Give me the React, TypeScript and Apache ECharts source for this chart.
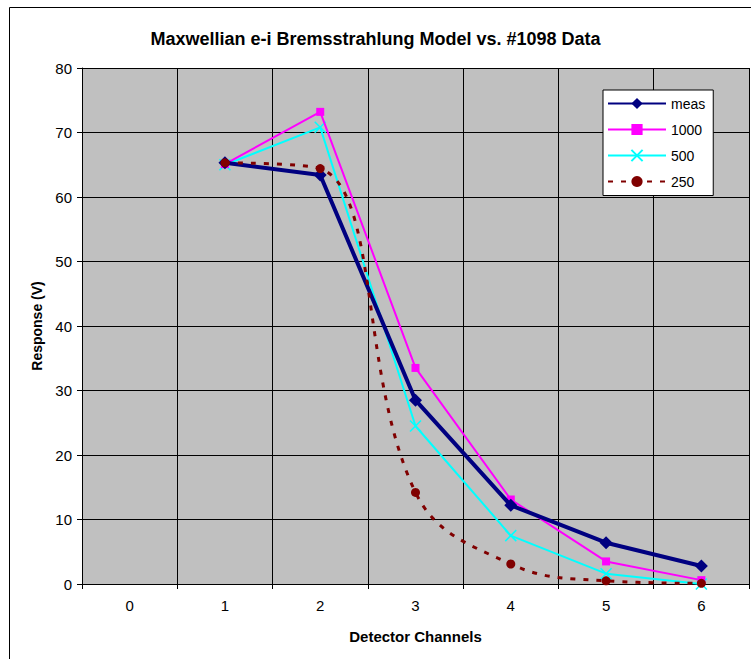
import React, { useEffect, useRef } from "react";
import * as echarts from "echarts";

const categories = ["0", "1", "2", "3", "4", "5", "6"];
const measData = [null, 65.3, 63.4, 28.5, 12.2, 6.4, 2.8];
const data1000 = [null, 65.1, 73.2, 33.5, 13.1, 3.5, 0.6];
const data500 = [null, 65.0, 70.8, 24.5, 7.5, 1.6, 0.0];
const data250 = [null, 65.3, 64.4, 14.2, 3.1, 0.5, 0.1];
const yTicks = { min: 0, max: 80, interval: 10 };

const titleText = "Maxwellian e-i Bremsstrahlung Model vs. #1098 Data";
const xName = "Detector Channels";
const yName = "Response (V)";

const FONT = "Arial, 'Liberation Sans', sans-serif";

export default function App() {
  const ref = useRef<HTMLDivElement>(null);
  useEffect(() => {
    const chart = echarts.init(ref.current!, null, { renderer: "svg" });
    chart.setOption({
      animation: false,
      backgroundColor: "#ffffff",
      title: {
        text: titleText,
        left: "center",
        top: 25,
        textStyle: { fontFamily: FONT, fontSize: 18, fontWeight: "bold", color: "#000" },
      },
      graphic: [
        {
          type: "rect",
          shape: { x: 9.5, y: 7.5, width: 800, height: 700 },
          style: { fill: "none", stroke: "#000", lineWidth: 1 },
          silent: true,
          z: -10,
        },
      ],
      grid: { left: 82, right: 2, top: 68, bottom: 75, backgroundColor: "#C0C0C0", show: true, borderWidth: 0 },
      legend: {
        orient: "vertical",
        left: 603,
        top: 90,
        width: 106,
        backgroundColor: "#fff",
        borderColor: "#000",
        borderWidth: 1,
        padding: [6.5, 8, 7, 4],
        itemWidth: 58,
        itemHeight: 14,
        itemGap: 12,
        textStyle: { fontFamily: FONT, fontSize: 14, color: "#000" },
        data: ["meas", "1000", "500", "250"],
      },
      xAxis: {
        type: "category",
        data: categories,
        boundaryGap: true,
        name: xName,
        nameLocation: "middle",
        nameGap: 45,
        nameTextStyle: { fontFamily: FONT, fontSize: 15, fontWeight: "bold", color: "#000" },
        axisLine: { show: true, lineStyle: { color: "#000", width: 1 } },
        axisTick: { show: true, length: 5, lineStyle: { color: "#000" } },
        axisLabel: { fontFamily: FONT, fontSize: 15, color: "#000", margin: 14 },
        splitLine: { show: true, interval: 0, lineStyle: { color: "#000", width: 1 } },
      },
      yAxis: {
        type: "value",
        min: yTicks.min,
        max: yTicks.max,
        interval: yTicks.interval,
        name: yName,
        nameLocation: "middle",
        nameGap: 38,
        nameTextStyle: { fontFamily: FONT, fontSize: 14, fontWeight: "bold", color: "#000" },
        axisLine: { show: true, lineStyle: { color: "#000", width: 1 } },
        axisTick: { show: true, length: 5, lineStyle: { color: "#000" } },
        axisLabel: { fontFamily: FONT, fontSize: 15, color: "#000", margin: 10 },
        splitLine: { show: true, lineStyle: { color: "#000", width: 1 } },
      },
      series: [
        {
          name: "meas",
          type: "line",
          data: measData,
          symbol: "diamond",
          symbolSize: 13,
          lineStyle: { color: "#000080", width: 4 },
          itemStyle: { color: "#000080" },
          z: 5,
        },
        {
          name: "1000",
          type: "line",
          data: data1000,
          symbol: "rect",
          symbolSize: 8,
          lineStyle: { color: "#FF00FF", width: 2 },
          itemStyle: { color: "#FF00FF" },
          z: 4,
        },
        {
          name: "500",
          type: "line",
          data: data500,
          symbol: "path://M0,0L10,10M10,0L0,10",
          symbolSize: 11,
          lineStyle: { color: "#00FFFF", width: 2 },
          itemStyle: { color: "#00FFFF", borderColor: "#00FFFF", borderWidth: 1.5 },
          z: 3,
        },
        {
          name: "250",
          type: "line",
          data: data250,
          smooth: 0.4,
          symbol: "circle",
          symbolSize: 9,
          lineStyle: { color: "#800000", width: 3, type: [5, 8] },
          itemStyle: { color: "#800000" },
          z: 6,
        },
      ],
    });
    return () => chart.dispose();
  }, []);
  return (
    <div
      ref={ref}
      style={{ position: "fixed", left: 0, top: 0, width: 751, height: 659 }}
    />
  );
}
